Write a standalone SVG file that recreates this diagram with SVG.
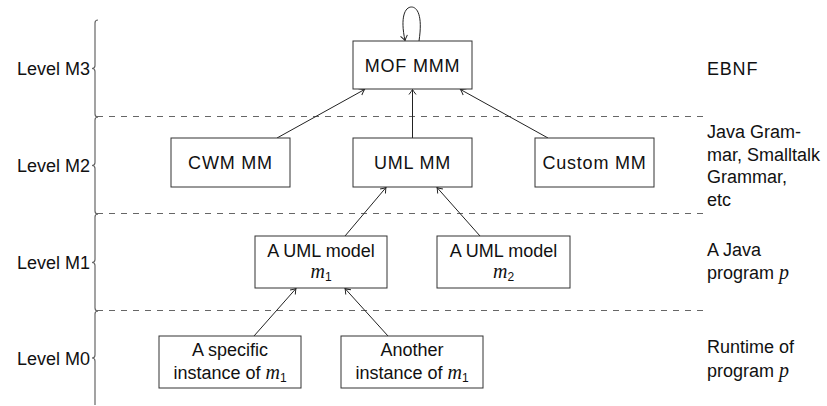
<svg xmlns="http://www.w3.org/2000/svg" width="827" height="406" viewBox="0 0 827 406">
<defs>
<style>
text{font-family:"Liberation Sans",Arial,sans-serif;font-size:18px;fill:#111}
.w{letter-spacing:0.8px}
.m{font-family:"Liberation Serif","Times New Roman",serif;font-style:italic;font-size:20px}
.s{font-size:12px}
.box{fill:#fff;stroke:#333;stroke-width:1}
.edge{fill:none;stroke:#222;stroke-width:1;marker-end:url(#arr)}
.dash{stroke:#666;stroke-width:1;stroke-dasharray:6 6;fill:none}
.brace{fill:none;stroke:#666;stroke-width:1.2}
</style>
<marker id="arr" markerWidth="10" markerHeight="10" viewBox="-6 -5 8 10" refX="0" refY="0" orient="auto" markerUnits="userSpaceOnUse">
<path d="M -5 -3.5 Q -1.5 -0.8 0 0 Q -1.5 0.8 -5 3.5" fill="none" stroke="#222" stroke-width="1"/>
</marker>
</defs>
<rect width="827" height="406" fill="#fff"/>

<g id="levels">
<path class="brace" d="M98 20 Q95 20 95 23 L95 65.5 Q95 68.5 92 68.5 Q95 68.5 95 71.5 L95 114 Q95 117 98 117"/>
<path class="brace" d="M98 117 Q95 117 95 120 L95 162.5 Q95 165.5 92 165.5 Q95 165.5 95 168.5 L95 211 Q95 214 98 214"/>
<path class="brace" d="M98 214 Q95 214 95 217 L95 259.5 Q95 262.5 92 262.5 Q95 262.5 95 265.5 L95 308 Q95 311 98 311"/>
<path class="brace" d="M98 311 Q95 311 95 314 L95 355 Q95 358 92 358 Q95 358 95 361 L95 405"/>
<text x="90" y="75" text-anchor="end">Level M3</text>
<text x="90" y="172" text-anchor="end">Level M2</text>
<text x="90" y="269" text-anchor="end">Level M1</text>
<text x="90" y="364.5" text-anchor="end">Level M0</text>
<line class="dash" x1="97" y1="116.5" x2="707" y2="116.5"/>
<line class="dash" x1="97" y1="213.5" x2="707" y2="213.5"/>
<line class="dash" x1="97" y1="310.5" x2="707" y2="310.5"/>
</g>

<g id="right-labels">
<text class="w" x="707" y="75">EBNF</text>
<text x="707" y="138">Java Gram-</text>
<text x="707" y="160.5">mar, Smalltalk</text>
<text x="707" y="183">Grammar,</text>
<text x="707" y="205.5">etc</text>
<text x="707" y="256">A Java</text>
<text x="707" y="279">program <tspan class="m">p</tspan></text>
<text x="707" y="353">Runtime of</text>
<text x="707" y="377">program <tspan class="m">p</tspan></text>
</g>

<g id="connectors">
<path class="edge" d="M419 41 C423 15 417 7 411.5 7 C405 7 400 17 405 40.5"/>
<line class="edge" x1="277" y1="138" x2="364.5" y2="89.5"/>
<line class="edge" x1="412.5" y1="138" x2="412.5" y2="89.5"/>
<line class="edge" x1="548" y1="138" x2="460.5" y2="89.5"/>
<line class="edge" x1="345" y1="236" x2="386" y2="187.5"/>
<line class="edge" x1="480" y1="236" x2="437" y2="187.5"/>
<line class="edge" x1="254" y1="336" x2="296" y2="288.5"/>
<line class="edge" x1="388" y1="336" x2="345" y2="288.5"/>
</g>

<g id="mof">
<rect class="box" x="353" y="41" width="119" height="48"/>
<text class="w" x="412.5" y="71.5" text-anchor="middle">MOF MMM</text>
</g>
<g id="cwm">
<rect class="box" x="171" y="138" width="119" height="49"/>
<text class="w" x="230.5" y="169" text-anchor="middle">CWM MM</text>
</g>
<g id="uml">
<rect class="box" x="353" y="138" width="119" height="49"/>
<text class="w" x="412.5" y="169" text-anchor="middle">UML MM</text>
</g>
<g id="custom">
<rect class="box" x="535" y="138" width="119" height="49"/>
<text class="w" x="594.5" y="169" text-anchor="middle">Custom MM</text>
</g>
<g id="m1">
<rect class="box" x="255" y="236" width="132" height="52"/>
<text x="321" y="257" text-anchor="middle">A UML model</text>
<text x="321" y="278" text-anchor="middle"><tspan class="m">m</tspan><tspan class="s" dy="3">1</tspan></text>
</g>
<g id="m2">
<rect class="box" x="437" y="236" width="133" height="52"/>
<text x="503.5" y="257" text-anchor="middle">A UML model</text>
<text x="503.5" y="278" text-anchor="middle"><tspan class="m">m</tspan><tspan class="s" dy="3">2</tspan></text>
</g>
<g id="specific">
<rect class="box" x="159" y="336" width="142" height="52"/>
<text x="230" y="356" text-anchor="middle">A specific</text>
<text x="230" y="379" text-anchor="middle">instance of <tspan class="m">m</tspan><tspan class="s" dy="3">1</tspan></text>
</g>
<g id="another">
<rect class="box" x="341" y="336" width="142" height="52"/>
<text x="412" y="356" text-anchor="middle">Another</text>
<text x="412" y="379" text-anchor="middle">instance of <tspan class="m">m</tspan><tspan class="s" dy="3">1</tspan></text>
</g>
</svg>
